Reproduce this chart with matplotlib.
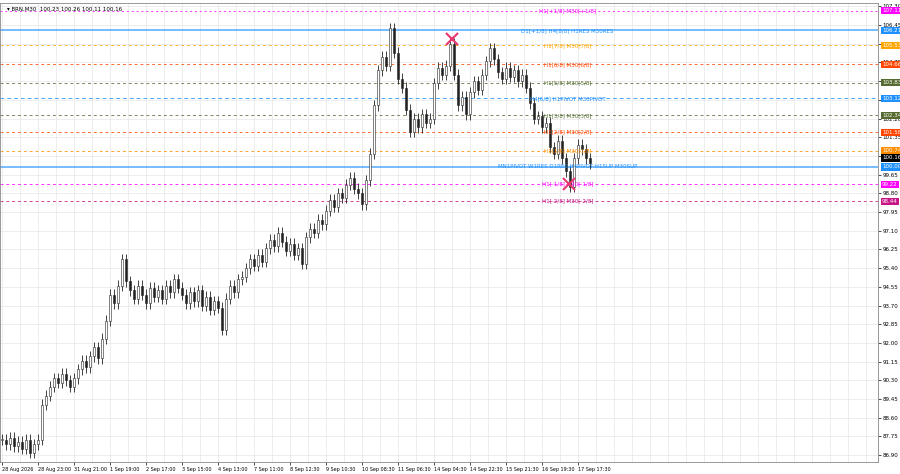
import matplotlib
matplotlib.use("Agg")
import matplotlib.pyplot as plt
import numpy as np

closes = [87.6,87.4,87.7,87.3,87.5,87.2,87.6,87.0,87.4,87.6,
 89.2,89.6,90.0,90.4,90.2,90.6,90.3,90.0,90.4,
 90.8,91.2,90.9,91.4,91.8,91.3,92.2,
 93.0,94.2,93.8,94.6,95.8,
 94.8,94.4,94.0,94.6,94.2,93.8,94.5,94.1,94.4,94.0,
 94.6,94.3,94.9,94.5,
 94.2,93.8,94.3,93.9,94.4,93.7,94.1,93.5,93.9,93.6,
 92.6,94.0,94.6,94.3,94.9,95.0,
 95.4,95.8,95.5,96.0,95.7,
 96.3,96.7,96.4,97.0,96.6,
 96.2,96.5,96.0,96.3,95.6,
 96.8,97.2,97.0,97.6,97.4,
 98.0,98.5,98.2,98.8,98.6,
 99.2,99.5,99.0,98.8,98.3,
 99.4,100.6,102.8,
 104.4,105.0,104.6,106.3,
 105.2,104.0,103.6,
 102.6,101.6,102.2,101.8,
 102.4,102.0,102.2,
 103.8,104.5,104.2,104.6,105.6,
 104.2,102.8,103.2,102.4,103.4,
 103.9,103.5,104.2,104.8,
 105.4,104.9,104.3,104.0,
 104.5,104.1,104.4,103.9,104.2,
 103.6,102.9,102.2,
 102.3,101.8,102.0,100.9,
 100.6,101.2,100.4,99.8,
 99.1,100.4,101.0,
 100.8,100.4,100.16]

level_prices = [107.11,106.21,105.53,104.66,103.83,103.12,102.34,101.58,100.74,100.00,99.22,98.44]
level_labels = ["H1[+1/8] M30[+1/8]","D1[+1/8] H4[8/8] H1RES M30RES","H1[7/8] M30[7/8]",
 "H1[6/8] M30[6/8]","H1[5/8] M30[5/8]","H4[6/8] H1PIVOT M30PIVOT","H1[3/8] M30[3/8]",
 "H1[2/8] M30[2/8]","H1[1/8] M30[1/8]","MN1PIVOT W1RES D1RES H4PIVOT H1SUP M30SUP",
 "H1[-1/8] M30[-1/8]","H1[-2/8] M30[-2/8]"]
level_colors = ["#ff00ff","#1e90ff","#ffa500","#ff4500","#556b2f","#1e90ff","#556b2f",
 "#ff4500","#ff8c00","#1e90ff","#ff00ff","#c71585"]
level_styles = [(0,(2,3)),"-",(0,(3,3)),(0,(3,3)),(0,(3,3)),(0,(4,3)),(0,(3,3)),
 (0,(3,3)),(0,(3,3)),"-",(0,(3,3)),(0,(3,3))]

tick_idx = [0,9,18,27,36,45,54,63,72,81,90,99,108,117,126,135,144]
tick_labels = ["28 Aug 2026","28 Aug 23:00","31 Aug 21:00","1 Sep 19:00","2 Sep 17:00",
 "3 Sep 15:00","4 Sep 13:00","7 Sep 11:00","8 Sep 12:30","9 Sep 10:30","10 Sep 08:30",
 "11 Sep 06:30","14 Sep 04:30","14 Sep 22:30","15 Sep 21:30","16 Sep 19:30","17 Sep 17:30"]
price_ticks = [107.30-0.85*i for i in range(25)]
cross_pts = [(112.5,105.8),(141.8,99.22)]

fig = plt.figure(figsize=(9,4.74), dpi=100)
ax = fig.add_axes([0.0,0.025,0.975,0.968])
ax.set_xlim(-0.5,219)
ax.set_ylim(86.58,107.44)

opens = [closes[0]] + closes[:-1]
for i,(o,c) in enumerate(zip(opens,closes)):
    lo, hi = min(o,c), max(o,c)
    ax.vlines(i, lo-0.25, hi+0.25, color="#222222", lw=0.6, zorder=3)
    ax.bar(i, max(hi-lo,0.03), bottom=lo, width=0.5, color="white" if c>=o else "#222222",
           edgecolor="#222222", lw=0.4, zorder=4)

for p,l,c,s in zip(level_prices,level_labels,level_colors,level_styles):
    lw = 1.2 if s=="-" else 0.7
    ax.axhline(p, color=c, ls=s, lw=lw, alpha=0.7 if s=="-" else 0.8, zorder=2)
    ax.text(141.5, p, l, color=c, fontsize=4, ha="center", va="center", zorder=5)
    ax.text(1.005, p, f"{p:.2f}", transform=ax.get_yaxis_transform(), fontsize=4,
            color="white", va="center", ha="left",
            bbox=dict(boxstyle="square,pad=0.2", fc=c, ec="none"), zorder=6)
ax.text(1.005, closes[-1]+0.25, f"{closes[-1]:.2f}", transform=ax.get_yaxis_transform(),
        fontsize=4, color="white", va="center", ha="left",
        bbox=dict(boxstyle="square,pad=0.2", fc="black", ec="none"), zorder=6)

for x,y in cross_pts:
    ax.plot(x,y,marker="x",color="#e8366f",ms=9,mew=1.5,zorder=7)

ax.yaxis.tick_right()
ax.set_yticks(price_ticks)
ax.set_yticklabels([f"{p:.2f}" for p in price_ticks], fontsize=4)
ax.set_xticks(tick_idx)
ax.set_xticklabels(tick_labels, fontsize=3.5, ha="left")
ax.tick_params(length=2, width=0.5, pad=1.5)
ax.set_xticks(np.arange(0,219,4.5), minor=True)
ax.grid(True, which="both", color="#e6e6e6", lw=0.5)
ax.tick_params(which="minor", length=0)
for sp in ax.spines.values():
    sp.set_color("#888888"); sp.set_linewidth(0.6)
ax.set_axisbelow(True)
ax.text(0.008,0.993,"▾ BRN,M30  100.23 100.26 100.11 100.16", transform=ax.transAxes,
        fontsize=4, va="top")
fig.savefig("out.png", dpi=100, facecolor="white")
